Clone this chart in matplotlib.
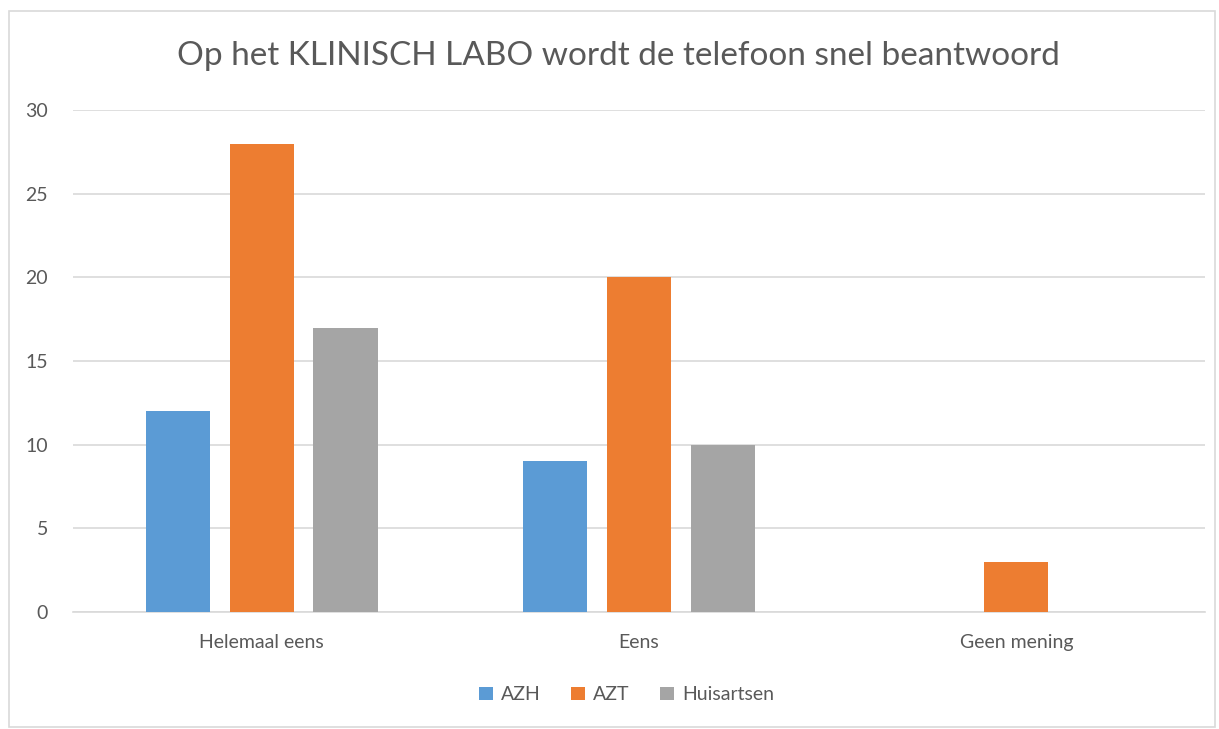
import numpy as np
import matplotlib
matplotlib.use("Agg")
import matplotlib.pyplot as plt
from matplotlib.patches import Rectangle

plt.rcParams['font.family'] = ['Lato', 'DejaVu Sans']

categories = ['Helemaal eens', 'Eens', 'Geen mening']
series_names = ['AZH', 'AZT', 'Huisartsen']
azh = [12, 9, 0]
azt = [28, 20, 3]
huisartsen = [17, 10, 0]
colors = ['#5b9bd5', '#ed7d31', '#a5a5a5']
title = 'Op het KLINISCH LABO wordt de telefoon snel beantwoord'

fig = plt.figure(figsize=(12.19, 7.29), dpi=100)
ax = fig.add_axes([0.0599, 0.1605, 0.9286, 0.6885])

x = np.arange(len(categories))
width = 0.17
step = 0.222
for i, (vals, name) in enumerate(zip([azh, azt, huisartsen], series_names)):
    ax.bar(x + (i - 1) * step, vals, width, color=colors[i], label=name, zorder=3)

ax.set_xlim(-0.5, len(categories) - 0.5)
ax.set_ylim(0, 30)
ax.set_yticks(range(0, 31, 5))
ax.yaxis.grid(True, color='#d9d9d9', linewidth=1.2, zorder=0)
ax.set_xticks(x)
ax.set_xticklabels(categories)
for s in ['top', 'right', 'left']:
    ax.spines[s].set_visible(False)
ax.spines['bottom'].set_color('#d9d9d9')
ax.spines['bottom'].set_linewidth(1.2)
ax.tick_params(axis='both', length=0, labelsize=14, labelcolor='#595959')
ax.tick_params(axis='x', pad=16)
ax.tick_params(axis='y', pad=18)

fig.text(0.507, 0.923, title, ha='center', va='center', fontsize=24, color='#595959')

fig.legend(loc='center', bbox_to_anchor=(0.514, 0.047), ncol=3, frameon=False,
           fontsize=14, handlelength=0.7, handleheight=0.7, handletextpad=0.4,
           columnspacing=1.6, labelcolor='#595959')

fig.patches.append(Rectangle((9 / 1219, 2 / 729), 1206 / 1219, 716 / 729,
                             transform=fig.transFigure, fill=False,
                             edgecolor='#d9d9d9', linewidth=1.2))

fig.savefig('out.png', dpi=100)
